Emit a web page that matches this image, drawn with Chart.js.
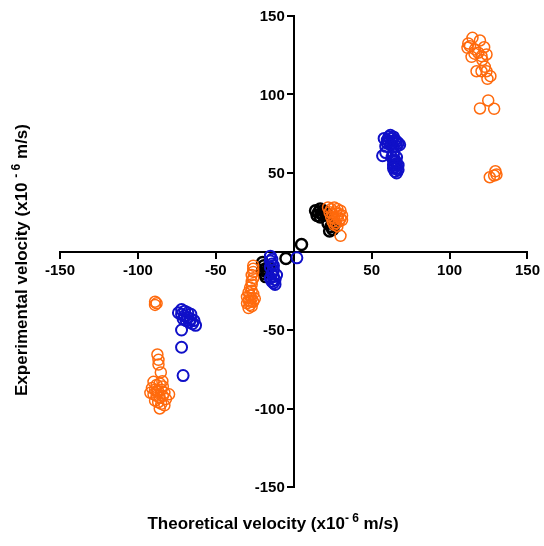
<!DOCTYPE html>
<html>
<head>
<meta charset="utf-8">
<script src="https://cdn.jsdelivr.net/npm/chart.js@4.4.1/dist/chart.umd.min.js"></script>
<style>
  html, body { margin: 0; padding: 0; background: #fff; }
  #wrap { width: 544px; height: 546px; }
</style>
</head>
<body>
<div id="wrap"><canvas id="velChart" width="544" height="546"></canvas></div>
<script>
// theoretical (x) vs experimental (y) velocity, x10^-6 m/s
const tickValues = [-150, -100, -50, 0, 50, 100, 150];

const blackX = [14, 16, 17, 18, 19, 20, 15, 17, 19, 21, 22, 24, 25, 26, 23, 5, -5, -20, -19, -18, -17, -19, -18, -16, -20];
const blackY = [26, 25, 27, 24, 26, 25, 23, 22, 23, 24, 18, 16, 14, 17, 13, 4.5, -4.5, -7, -9, -11, -13, -14, -16, -10, -12];

const blueX = [58, 60, 61, 62, 63, 64, 65, 66, 67, 60, 62, 64, 66, 68, 59, 61, 63, 57, 59,
  63, 64, 65, 66, 64, 65, 66, 67, 65, 66, 64, 66, 65, 67, 64,
  2, -15, -14, -15, -14, -15, -13, -14, -13, -12, -14, -13, -12, -15, -11, -13,
  -72, -70, -68, -66, -70, -68, -66, -64, -72, -74, -65, -63, -69, -71, -67, -72, -72, -71];
const blueY = [72, 71, 73, 74, 72, 73, 71, 70, 69, 69, 68, 67, 67, 68, 67, 70, 70, 61, 63,
  60, 58, 57, 56, 55, 54, 53, 52, 51, 50, 62, 60, 58, 55, 53,
  -4, -3, -5, -6, -8, -10, -12, -14, -16, -18, -19, -20, -21, -17, -15, -9,
  -37, -38, -39, -40, -41, -42, -43, -44, -40, -39, -46, -47, -44, -43, -45, -50, -61, -79];

const orangeX = [114.7, 119.5, 112, 113.1, 122.2, 111.5, 116.3, 118.4, 123.7, 114.1, 120.5, 117.3, 122.6, 123.7, 126.2, 124.3, 120.5, 124.8, 119.5, 128.6, 125.8, 129.4, 130.1, 128.6, 116, 121,
  22, 24, 26, 28, 30, 23, 25, 27, 29, 31, 24, 26, 28, 30, 25, 27, 29, 31, 26, 28, 30,
  -26, -26, -26, -27, -26, -27, -27, -28, -27, -29, -26, -28, -30, -27, -25, -29, -28, -26, -30, -28, -27, -29,
  -89, -88, -89,
  -87.5, -86.8, -86.8, -85.3, -84.3, -90, -88, -86, -84, -91, -89, -87, -85, -83, -92, -90, -88, -86, -84, -82, -89, -87, -85, -83, -86, -88, -80];
const orangeY = [136.1, 134.4, 132.5, 130.8, 130.1, 129.7, 128.7, 126.6, 125.5, 124, 124.4, 114.8, 117.6, 114.8, 111.7, 110, 114.8, 96.2, 91.1, 90.9, 47.3, 51.1, 49, 48.4, 126, 122,
  28, 27, 28, 27, 26, 25, 24, 25, 24, 23, 22, 21, 22, 21, 19, 18, 19, 20, 17, 16, 10,
  -9, -11, -13, -15, -17, -19, -21, -23, -25, -26, -27, -28, -29, -30, -30, -31, -32, -32, -33, -34, -35, -36,
  -32, -33, -34,
  -65.6, -69, -72, -77, -82.6, -83, -85, -84, -86, -87, -88, -89, -88, -90, -90, -91, -92, -93, -92, -94, -95, -96, -97, -98, -100, -89, -91];

const tickFont = 'bold 15px "Liberation Sans", Arial, sans-serif';

function toPoints(xs, ys) {
  return xs.map((x, i) => ({ x: x, y: ys[i] }));
}

function pointSet(xs, ys, color, width, order) {
  return {
    data: toPoints(xs, ys),
    showLine: false,
    pointStyle: 'circle',
    pointRadius: 5.5,
    pointHoverRadius: 5.5,
    borderColor: color,
    backgroundColor: 'rgba(0,0,0,0)',
    pointBorderWidth: width,
    order: order
  };
}

// axis titles and y tick labels drawn by hand, the axes sit in the middle of the chart
const axisTitles = {
  id: 'axisTitles',
  afterDraw(chart) {
    const c = chart.ctx;
    const big = 'bold 17px "Liberation Sans", Arial, sans-serif';
    const small = 'bold 12px "Liberation Sans", Arial, sans-serif';
    const parts = (pre, sup, post) => [
      { t: pre, f: big, dy: 0 },
      { t: sup, f: small, dy: -7 },
      { t: post, f: big, dy: 0 }
    ];
    function drawRun(items, cx, cy) {
      let total = 0;
      items.forEach(p => { c.font = p.f; total += c.measureText(p.t).width; });
      let x = cx - total / 2;
      items.forEach(p => {
        c.font = p.f;
        c.fillText(p.t, x, cy + p.dy);
        x += c.measureText(p.t).width;
      });
    }
    c.save();
    c.fillStyle = '#000';

    // y tick labels, left of the vertical axis
    const xs = chart.scales.x;
    const ys = chart.scales.y;
    const axisX = xs.getPixelForValue(0);
    c.font = tickFont;
    c.textAlign = 'right';
    c.textBaseline = 'middle';
    ys.ticks.forEach(t => {
      if (t.value === 0) return;
      c.fillText(String(t.value), axisX - 9, ys.getPixelForValue(t.value) + 1);
    });

    c.textBaseline = 'alphabetic';
    c.textAlign = 'left';
    drawRun(parts('Theoretical velocity (x10', '- 6', ' m/s)'), 273, 529);
    c.translate(27, 260);
    c.rotate(-Math.PI / 2);
    drawRun(parts('Experimental velocity (x10 ', '- 6', ' m/s)'), 0, 0);
    c.restore();
  }
};

const axisStyle = {
  type: 'linear',
  min: -150,
  max: 150,
  border: { display: true, color: '#000', width: 2 },
  grid: { drawOnChartArea: false, drawTicks: true, tickLength: 6, color: '#000', lineWidth: 2 },
  afterBuildTicks(scale) {
    scale.ticks = tickValues.map(v => ({ value: v }));
  }
};

new Chart(document.getElementById('velChart'), {
  type: 'scatter',
  data: {
    datasets: [
      pointSet(orangeX, orangeY, '#ff6a0d', 1.5, 0),
      pointSet(blueX, blueY, '#1010c8', 2, 1),
      pointSet(blackX, blackY, '#000000', 2.5, 2)
    ]
  },
  options: {
    responsive: false,
    animation: false,
    layout: { padding: { left: 60, right: 14, top: 16, bottom: 59 } },
    plugins: { legend: { display: false }, tooltip: { enabled: false } },
    scales: {
      x: Object.assign({}, axisStyle, {
        position: { y: 0 },
        ticks: {
          color: '#000',
          padding: 4,
          font: { family: '"Liberation Sans", Arial, sans-serif', size: 15, weight: 'bold' },
          maxRotation: 0,
          callback: v => (v === 0 ? '' : v)
        }
      }),
      y: Object.assign({}, axisStyle, {
        position: { x: 0 },
        ticks: { display: false }
      })
    }
  },
  plugins: [axisTitles]
});
</script>
</body>
</html>
